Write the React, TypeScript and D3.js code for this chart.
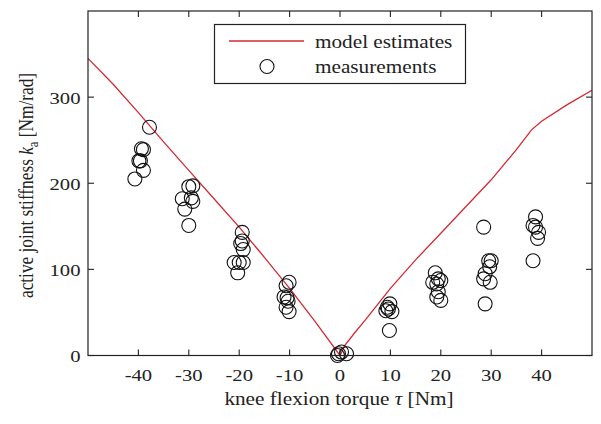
import React from "react";
import * as d3 from "d3";

const modelTorque = [-50, -45, -40, -35, -30, -25, -20, -15, -10, -5, 0, 1, 3, 5, 10, 15, 20, 25, 30, 35, 38, 40, 45, 50];
const modelStiffness = [345, 315, 282, 248, 215, 182, 149, 114, 78, 40, 0, 12, 27, 41, 78, 111, 142, 173, 204, 239, 262, 272, 291, 308];

const measTorque = [
  -37.8, -39.4, -39.0, -39.9, -39.6, -39.0, -40.7,
  -30.0, -29.2, -31.3, -29.5, -29.2, -30.8, -30.0,
  -19.4, -19.4, -19.7, -19.2, -21.0, -20.0, -19.2, -20.3,
  -10.1, -10.7, -11.1, -10.5, -10.3, -10.7, -10.1,
  -0.3, 0.3, 1.3, -0.5,
  9.9, 9.4, 9.1, 10.3, 9.6, 9.8,
  18.9, 18.4, 19.5, 20.0, 19.2, 19.5, 19.2, 20.0,
  28.5, 29.5, 30.0, 29.7, 28.8, 28.5, 29.8, 28.8,
  38.8, 38.3, 38.8, 39.4, 39.2, 38.3,
];
const measStiffness = [
  265, 240, 239, 226, 226, 215, 205,
  196, 197, 182, 183, 179, 170, 151,
  143, 133, 130, 123, 108, 108, 108, 96,
  85, 81, 68, 67, 63, 56, 51,
  2, 4, 2, 0,
  60, 56, 52, 51, 54, 29,
  96, 85, 89, 87, 83, 74, 68, 64,
  149, 110, 110, 103, 95, 89, 85, 60,
  161, 151, 149, 143, 136, 110,
];

const xTicks = [-40, -30, -20, -10, 0, 10, 20, 30, 40];
const yTicks = [0, 100, 200, 300];

const W = 601;
const H = 424;
const L = 88, R = 592, T = 11, B = 355.5;
const SX = 1.18;

export default function App() {
  const x = d3.scaleLinear().domain([-50, 50]).range([L, R]);
  const y = d3.scaleLinear().domain([0, 400]).range([B, T]);
  const line = d3
    .line<number>()
    .x((_, i) => x(modelTorque[i]))
    .y((d) => y(d));
  const tick = 6;
  const font = "'Liberation Serif', 'Times New Roman', serif";
  const axisColor = "#222";
  const tr = (px: number, py: number) => `translate(${px},${py}) scale(${SX},1)`;
  return (
    <svg
      width={W}
      height={H}
      style={{ position: "absolute", left: 0, top: 0, background: "#fff" }}
      fontFamily={font}
    >
      <rect x={0} y={0} width={W} height={H} fill="#fff" />
      <defs>
        <clipPath id="plot">
          <rect x={L} y={T} width={R - L} height={B - T} />
        </clipPath>
      </defs>
      <path
        d={line(modelStiffness) || ""}
        fill="none"
        stroke="#d42a34"
        strokeWidth={1.3}
        clipPath="url(#plot)"
      />
      {measTorque.map((t, i) => (
        <circle
          key={i}
          cx={x(t)}
          cy={y(measStiffness[i])}
          r={7}
          fill="none"
          stroke="#111"
          strokeWidth={1.1}
        />
      ))}
      <rect x={L} y={T} width={R - L} height={B - T} fill="none" stroke={axisColor} strokeWidth={1.2} />
      {xTicks.map((t) => (
        <g key={"x" + t}>
          <line x1={x(t)} x2={x(t)} y1={B} y2={B - tick} stroke={axisColor} strokeWidth={1.1} />
          <line x1={x(t)} x2={x(t)} y1={T} y2={T + tick} stroke={axisColor} strokeWidth={1.1} />
          <text transform={tr(x(t), 381)} textAnchor="middle" fontSize={17.5} fill="#222">
            {t}
          </text>
        </g>
      ))}
      {yTicks.map((t) => (
        <g key={"y" + t}>
          <line x1={L} x2={L + tick} y1={y(t)} y2={y(t)} stroke={axisColor} strokeWidth={1.1} />
          <line x1={R} x2={R - tick} y1={y(t)} y2={y(t)} stroke={axisColor} strokeWidth={1.1} />
          <text transform={tr(80.5, y(t) + 6.5)} textAnchor="end" fontSize={17.5} fill="#222">
            {t}
          </text>
        </g>
      ))}
      <text transform={tr(339, 405)} textAnchor="middle" fontSize={18} fill="#222">
        knee flexion torque <tspan fontStyle="italic">τ</tspan> [Nm]
      </text>
      <text
        transform={`translate(33, 185.5) rotate(-90) scale(1,${SX})`}
        textAnchor="middle"
        fontSize={17.3}
        fill="#222"
      >
        active joint stiffness <tspan fontStyle="italic">k</tspan>
        <tspan fontSize={12.5} dy={4}>a</tspan>
        <tspan dy={-4}> [Nm/rad]</tspan>
      </text>
      <rect x={214.5} y={24.5} width={251} height={59} fill="#fff" stroke={axisColor} strokeWidth={1.2} />
      <line x1={229} x2={304} y1={41} y2={41} stroke="#d42a34" strokeWidth={1.3} />
      <circle cx={267} cy={66.5} r={7} fill="none" stroke="#111" strokeWidth={1.1} />
      <text transform={tr(315, 48)} fontSize={18} fill="#222">
        model estimates
      </text>
      <text transform={tr(315, 72.5)} fontSize={18} fill="#222">
        measurements
      </text>
    </svg>
  );
}
